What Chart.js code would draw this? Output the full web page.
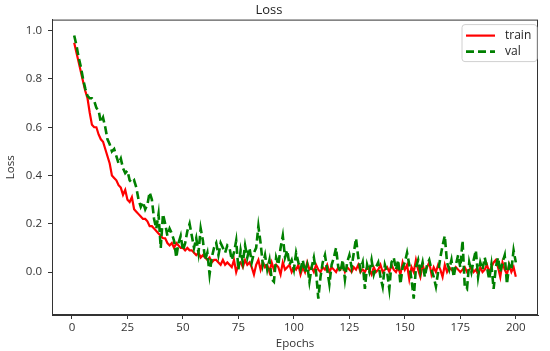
<!DOCTYPE html>
<html>
<head>
<meta charset="utf-8">
<script src="https://cdn.jsdelivr.net/npm/chart.js@4.4.0/dist/chart.umd.min.js"></script>
<style>
  html, body { margin: 0; padding: 0; background: #fff; }
  #wrap { width: 550px; height: 351px; }
</style>
</head>
<body>
<div id="wrap"><canvas id="lossChart" width="550" height="351"></canvas></div>
<script>
// loss per epoch (epochs 1..200)
const trainLoss = [
  0.95,0.91,0.87,0.83,0.79,0.75,0.72,0.66,0.61,0.60,
  0.60,0.57,0.55,0.54,0.51,0.48,0.45,0.40,0.39,0.38,
  0.36,0.35,0.32,0.34,0.30,0.29,0.31,0.26,0.25,0.24,
  0.23,0.22,0.22,0.21,0.19,0.19,0.18,0.17,0.16,0.15,
  0.14,0.14,0.12,0.11,0.12,0.10,0.12,0.11,0.10,0.10,
  0.09,0.10,0.09,0.09,0.08,0.07,0.08,0.06,0.07,0.06,
  0.05,0.06,0.04,0.05,0.05,0.04,0.03,0.05,0.03,0.04,
  0.03,0.02,0.05,0.00,0.03,0.04,0.02,0.05,0.03,0.04,
  0.02,-0.01,0.03,0.05,0.01,0.04,0.02,0.03,0.00,0.04,
  0.01,0.03,0.02,-0.01,0.04,0.01,0.02,0.03,0.00,0.02,
  0.01,0.03,-0.01,0.02,0.00,0.04,0.01,0.02,0.00,0.03,
  0.01,0.00,0.02,0.01,0.03,0.00,0.02,0.01,0.00,0.02,
  0.01,0.03,0.00,0.02,0.01,0.00,0.02,0.01,0.03,0.00,
  0.01,0.00,0.02,0.01,-0.01,0.02,0.00,0.01,0.03,0.00,
  0.01,0.02,0.00,0.03,0.01,0.00,0.02,-0.01,0.04,0.01,
  0.03,-0.03,0.02,0.00,0.05,0.01,-0.02,0.03,0.00,0.02,
  0.04,-0.01,0.02,0.00,0.03,0.01,-0.02,0.03,0.00,0.02,
  0.01,0.00,0.02,0.01,0.00,0.01,0.02,0.00,0.01,0.02,
  0.00,0.01,-0.01,0.02,0.00,0.01,0.03,0.00,0.02,0.04,
  0.05,0.02,-0.02,0.04,0.01,-0.01,0.03,0.00,0.02,-0.02
];
const valLoss = [
  0.98,0.94,0.89,0.85,0.80,0.76,0.73,0.72,0.72,0.71,
  0.68,0.67,0.62,0.64,0.60,0.55,0.53,0.50,0.51,0.48,
  0.45,0.47,0.43,0.41,0.42,0.38,0.37,0.38,0.35,0.30,
  0.27,0.29,0.26,0.28,0.33,0.30,0.22,0.18,0.24,0.10,
  0.24,0.20,0.15,0.18,0.16,0.13,0.06,0.12,0.15,0.09,
  0.12,0.17,0.20,0.15,0.10,0.14,0.08,0.18,0.13,0.05,
  0.08,-0.01,0.06,0.10,0.12,0.07,0.12,0.10,0.08,0.11,
  0.10,0.05,0.08,0.13,0.01,0.09,0.04,0.11,0.06,0.10,
  0.04,0.08,0.10,0.19,0.12,0.03,0.07,0.01,0.05,-0.03,
  -0.04,0.06,0.03,0.10,0.15,0.06,0.09,0.03,0.05,0.01,
  0.08,0.04,0.01,0.05,0.00,0.03,-0.04,0.02,0.06,0.00,
  -0.11,-0.02,0.04,0.07,0.01,-0.05,0.03,0.06,0.10,0.02,
  0.00,0.05,-0.03,0.04,0.07,0.02,0.08,0.14,0.06,0.01,
  0.04,-0.07,0.03,0.00,0.05,-0.01,0.02,0.04,-0.02,-0.06,
  0.03,0.00,-0.07,0.04,0.06,0.01,0.05,-0.05,0.02,0.04,
  0.08,0.03,-0.03,-0.11,0.02,0.05,0.00,0.04,-0.02,0.03,
  0.05,0.01,-0.02,-0.06,0.00,0.06,0.11,0.15,0.04,0.01,
  0.05,-0.02,0.03,0.07,0.02,0.13,-0.06,-0.07,0.04,0.00,
  0.05,0.09,-0.02,0.04,0.01,0.06,0.02,-0.03,0.03,-0.07,
  0.02,0.06,0.00,0.04,0.07,-0.05,0.03,0.01,0.09,0.04
];
const xTicks = [0, 25, 50, 75, 100, 125, 150, 175, 200];
const yTicks = [0.0, 0.2, 0.4, 0.6, 0.8, 1.0];
const seriesNames = ['train', 'val'];

const FONT = '"Open Sans", "DejaVu Sans", sans-serif';
const toPoints = arr => arr.map((v, i) => ({ x: i + 1, y: v }));

// axes box + legend drawn matplotlib-style inside the plot
const frameAndLegend = {
  id: 'frameAndLegend',
  afterDraw(chart) {
    const { ctx, chartArea: a } = chart;
    ctx.save();
    ctx.strokeStyle = '#333';
    ctx.lineWidth = 1;
    ctx.strokeRect(a.left + 0.5, a.top + 0.5, a.right - a.left - 1, a.bottom - a.top - 1);

    const bx = a.right - 76, by = a.top + 5, bw = 75, bh = 37;
    ctx.fillStyle = 'rgba(255,255,255,0.85)';
    ctx.strokeStyle = '#d0d0d0';
    ctx.beginPath();
    ctx.roundRect(bx, by, bw, bh, 3);
    ctx.fill();
    ctx.stroke();

    ctx.font = '12px ' + FONT;
    ctx.textBaseline = 'middle';
    chart.data.datasets.forEach((ds, i) => {
      const y = by + 11 + i * 16;
      ctx.strokeStyle = ds.borderColor;
      ctx.lineWidth = ds.borderWidth;
      ctx.setLineDash(ds.borderDash || []);
      ctx.beginPath();
      ctx.moveTo(bx + 4, y);
      ctx.lineTo(bx + 33, y);
      ctx.stroke();
      ctx.setLineDash([]);
      ctx.fillStyle = '#222';
      ctx.fillText(ds.label, bx + 43, y);
    });
    ctx.restore();
  }
};

new Chart(document.getElementById('lossChart'), {
  type: 'line',
  data: {
    datasets: [{
      label: seriesNames[0],
      data: toPoints(trainLoss),
      borderColor: '#ff0000',
      borderWidth: 2.2,
      pointRadius: 0,
      tension: 0,
      order: 1
    }, {
      label: seriesNames[1],
      data: toPoints(valLoss),
      borderColor: '#008000',
      borderWidth: 2.6,
      borderDash: [8, 4],
      pointRadius: 0,
      tension: 0,
      order: 0
    }]
  },
  options: {
    responsive: false,
    animation: false,
    layout: { padding: { left: 0, right: 12, top: 0, bottom: 0 } },
    plugins: {
      legend: { display: false },
      tooltip: { enabled: false },
      title: {
        display: true,
        text: 'Loss',
        color: '#222',
        font: { family: FONT, size: 13, weight: 'normal' },
        padding: { top: 2, bottom: 2 }
      }
    },
    scales: {
      x: {
        type: 'linear',
        min: -9,
        max: 210,
        afterBuildTicks: s => { s.ticks = xTicks.map(v => ({ value: v })); },
        afterFit: s => { s.height = 36; },
        grid: { drawOnChartArea: false, drawTicks: true, tickLength: 4, tickColor: '#333' },
        border: { display: true, color: '#333' },
        ticks: { color: '#333', font: { family: FONT, size: 11.5 }, padding: 2, maxRotation: 0, callback: v => v },
        title: { display: true, text: 'Epochs', color: '#333', font: { family: FONT, size: 11.5 }, padding: { top: 0, bottom: 0 } }
      },
      y: {
        type: 'linear',
        min: -0.178,
        max: 1.046,
        afterBuildTicks: s => { s.ticks = yTicks.map(v => ({ value: v })); },
        afterFit: s => { s.width = 52; },
        grid: { drawOnChartArea: false, drawTicks: true, tickLength: 4, tickColor: '#333' },
        border: { display: true, color: '#333' },
        ticks: { color: '#333', font: { family: FONT, size: 11.5 }, padding: 6, callback: v => v.toFixed(1) },
        title: { display: true, text: 'Loss', color: '#333', font: { family: FONT, size: 11.5 }, padding: { top: 4, bottom: 0 } }
      }
    }
  },
  plugins: [frameAndLegend]
});
</script>
</body>
</html>
